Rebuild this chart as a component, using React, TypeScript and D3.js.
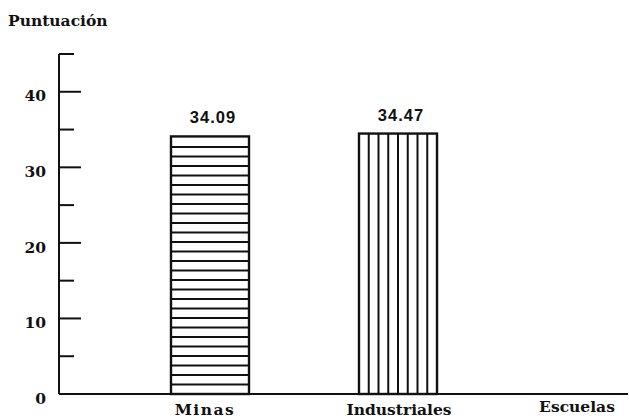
import React from "react";
import * as d3 from "d3";

const categories = ["Minas", "Industriales", "Escuelas"];
const values: (number | null)[] = [34.09, 34.47, null];
const valueLabels = ["34.09", "34.47", ""];
const majorTicks = [0, 10, 20, 30, 40];
const minorTicks = [5, 15, 25, 35, 45];
const yTitle = "Puntuación";

const W = 629;
const H = 419;
const axisX = 59;
const y = d3.scaleLinear().domain([0, 45]).range([394, 54]);
const x = d3.scaleBand<string>().domain(categories).range([116, 680]).paddingInner(0.585).paddingOuter(0.2925);

const serif = "'DejaVu Serif', serif";
const sans = "'Liberation Sans', Arial, sans-serif";

export default function App() {
  const bw = x.bandwidth();
  const y0 = y(0);
  return (
    <svg width={W} height={H} style={{ position: "absolute", left: 0, top: 0, background: "#fff" }}>
      <rect x={0} y={0} width={W} height={H} fill="#fff" />
      <text x={8} y={26} fontFamily={serif} fontWeight="bold" fontSize={15.5} fill="#111">{yTitle}</text>
      <line x1={axisX} x2={axisX} y1={y(45)} y2={y0} stroke="#111" strokeWidth={2} />
      <line x1={axisX} x2={628} y1={y0} y2={y0} stroke="#111" strokeWidth={2} />
      {majorTicks.map((t) => (
        <g key={"M" + t}>
          {t !== 0 && <line x1={axisX} x2={axisX + 22} y1={y(t)} y2={y(t)} stroke="#111" strokeWidth={2} />}
          <text x={46} y={y(t) + 5} dy="0.3em" textAnchor="end" fontFamily={serif} fontWeight="bold" fontSize={15.5} fill="#111">{t}</text>
        </g>
      ))}
      {minorTicks.map((t) => (
        <line key={"m" + t} x1={axisX} x2={axisX + 15} y1={y(t)} y2={y(t)} stroke="#111" strokeWidth={2} />
      ))}
      {categories.map((c, i) => {
        const v = values[i];
        const x0 = x(c)!;
        const cx = x0 + bw / 2;
        const els: React.ReactNode[] = [];
        if (v != null) {
          const top = y(v);
          if (i === 0) {
            const lines: number[] = [];
            for (let yy = y0 - 9.5; yy > top + 4; yy -= 9.5) lines.push(yy);
            lines.forEach((yy, k) => els.push(<line key={"h" + k} x1={x0} x2={x0 + bw} y1={yy} y2={yy} stroke="#111" strokeWidth={2} />));
          } else {
            const n = 8;
            for (let k = 1; k < n; k++) {
              const xx = x0 + (k * bw) / n;
              els.push(<line key={"v" + k} x1={xx} x2={xx} y1={top} y2={y0} stroke="#111" strokeWidth={2} />);
            }
          }
          els.push(<rect key="r" x={x0} y={top} width={bw} height={y0 - top} fill="none" stroke="#111" strokeWidth={2.4} />);
          els.push(
            <text key="t" x={cx + 3} y={top - 13} textAnchor="middle" fontFamily={sans} fontWeight="bold" fontSize={16.5} letterSpacing={1} fill="#111">{valueLabels[i]}</text>
          );
        }
        const dx = i === 2 ? -9 : i === 0 ? -5 : 1;
        const by = i === 2 ? 412 : 415;
        els.push(
          <text key="c" x={cx + dx} y={by} textAnchor="middle" fontFamily={serif} fontWeight="bold" fontSize={15.5} letterSpacing={i === 0 ? 1.5 : 0} fill="#111">{c}</text>
        );
        return <g key={c}>{els}</g>;
      })}
    </svg>
  );
}
